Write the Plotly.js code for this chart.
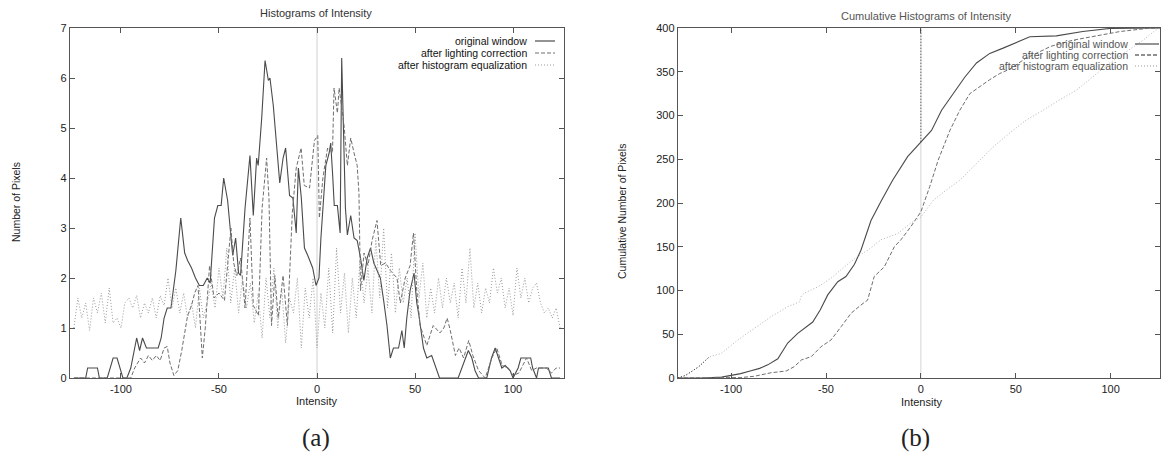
<!DOCTYPE html>
<html>
<head>
<meta charset="utf-8">
<script src="https://cdn.plot.ly/plotly-3.0.1.min.js"></script>
<style>
  html, body { margin: 0; padding: 0; background: #fff; }
  #chart { width: 1161px; height: 463px; }
</style>
</head>
<body>
<div id="chart"></div>
<script>
// ---------- (a) Histograms of Intensity ----------
const seriesNames = ['original window', 'after lighting correction', 'after histogram equalization'];
const xTickVals = [-100, -50, 0, 50, 100];
const xTickText = ['-100', '-50', '0', '50', '100'];

const origX = [-124,-118,-117,-112,-111,-107,-104,-102,-99,-97,-95,-92,-90.5,-89,-87,-81,-79.5,-78,-76.4,-74.5,-72,-69.5,-67.5,-66,-64,-62,-60,-58,-56,-54.5,-52.3,-50.6,-48.9,-47.6,-45.6,-43.9,-43,-41.5,-40,-39,-36.7,-34.2,-32.5,-30.8,-30,-28.2,-26.5,-24.8,-24,-22.3,-20.6,-19,-17.3,-16,-14,-12.3,-10.6,-9.5,-8,-6.4,-4.7,-2.2,-0.5,1,2,3.7,4.5,6.2,7,8,8.8,10.4,11.8,12.6,13.5,14.5,15.5,17.2,18.9,20.5,22.2,23.9,25.6,27.3,29,30.6,32.3,34,35.7,37.4,39,41.6,43.3,44.5,45.8,47.5,49.5,50.9,52,54.3,56,58.5,61,62.5,72,75.5,77.2,79,80.6,82.4,86.6,89,90.9,92.6,94.3,96,98.5,100,102.6,104,109,110,112,113,118,119.6,124];
const origY = [0,0,0.2,0.2,0,0,0.4,0.4,0,0,0.2,0.8,0.55,0.8,0.6,0.6,0.8,1.2,1.4,1.4,2.15,3.2,2.5,2.35,2.2,2.0,1.85,1.85,2.0,1.9,3.2,3.45,3.45,4.0,3.55,2.8,2.45,2.8,2.1,2.05,3.4,4.45,3.25,4.4,4.25,5.2,6.35,5.95,6.0,5.45,4.7,3.9,4.4,4.6,3.65,3.6,2.9,4.2,3.6,2.6,2.45,2.2,1.85,2.0,2.8,3.7,4.25,4.5,4.7,4.05,3.45,3.45,2.9,6.4,5.0,3.4,2.86,3.25,2.8,2.75,2.4,1.95,2.4,2.6,2.3,2.15,2.0,1.55,1.05,0.4,0.6,0.6,0.95,0.6,1.2,1.75,2.1,1.5,1.25,0.6,0.4,0.45,0.15,0,0,0.4,0.55,0.4,0.15,0,0,0.4,0.6,0.4,0.2,0.25,0.15,0,0.2,0.4,0.4,0.2,0,0.2,0.2,0,0];

const lightX = [-124,-96,-95,-93,-90,-88,-86,-84,-82,-80,-78,-76.4,-75,-73,-71,-69,-67.5,-66,-64,-62.4,-60.7,-58.5,-57,-54.8,-52.5,-50,-47.2,-45,-43.9,-42.5,-40.9,-39,-36.7,-34.2,-32.5,-29.9,-28,-25.7,-24.5,-23.2,-21.5,-19.8,-17.3,-15.1,-12.6,-10.6,-8.1,-6.5,-3.8,-1.3,0.4,1.2,3,5.4,7.9,8.7,10.4,11.3,13.8,15.5,17.2,18.9,20.5,21.4,22.2,24,26,28.1,30.6,32.5,35,37.4,40.8,42.5,45,47.5,49.2,50.9,52.6,56,59.3,62.7,64.7,66.4,68,70.6,72.5,74.8,77.4,79.5,82.4,85.8,89.2,91.7,94.5,97.6,100,103,105,106.9,109.5,112,117,119.6,122,124];
const lightY = [0,0,0,0.2,0.4,0.3,0.45,0.35,0.45,0.35,0.6,0.63,0.3,0.05,0.15,0.55,0.95,1.25,1.45,1.7,1.85,0.4,1.0,2.25,1.6,1.7,1.55,2.5,3.0,2.3,2.05,2.4,1.4,3.2,1.45,1.25,3.4,4.4,3.6,1.05,2.05,1.2,2.05,1.05,3.3,4.2,4.6,3.85,3.8,4.75,4.85,3.2,4.0,4.6,4.5,5.8,5.3,5.8,5.05,4.25,4.8,4.5,4.25,3.7,1.75,2.5,2.25,2.75,3.15,2.25,2.3,2.15,2.0,1.5,2.0,2.25,2.9,1.75,1.05,0.65,1.05,0.9,1.0,1.2,0.95,0.45,0.6,0.4,0.75,0.45,0.15,0,0.4,0.6,0.25,0.2,0.05,0.1,0.25,0.4,0.15,0.2,0.2,0.1,0.2,0.2];

const eqX = [];
for (let v = -124; v <= 124; v += 2) eqX.push(v);
const eqY = [
  1.0,1.6,1.2,1.5,0.95,1.6,1.3,1.7,1.1,1.8,
  1.1,1.2,1.0,1.5,1.6,1.4,1.65,1.2,1.5,1.3,
  1.6,1.2,1.65,1.45,2.0,1.4,1.8,1.3,1.7,1.2,
  1.5,1.0,1.8,1.2,1.5,1.9,1.4,2.2,1.6,2.6,
  1.5,2.2,1.3,2.0,1.4,1.9,1.1,1.7,0.8,2.0,
  1.2,2.2,1.0,1.8,0.7,1.6,1.3,2.0,0.6,1.8,
  1.2,2.0,0.6,1.7,1.0,2.2,0.9,2.6,1.3,2.1,
  0.9,2.0,1.2,2.4,1.5,2.2,1.3,2.8,1.6,3.0,
  1.4,2.5,1.3,2.2,1.5,2.0,1.2,2.9,1.6,2.3,
  1.2,1.8,1.3,2.0,1.4,2.0,1.5,1.9,1.2,2.2,
  1.5,2.6,1.4,1.9,1.3,1.8,1.5,2.2,1.7,2.0,
  1.4,1.8,1.25,2.2,1.6,2.0,1.5,1.8,1.9,1.5,
  1.3,1.4,1.2,1.4,1.0
];

// ---------- (b) Cumulative Histograms of Intensity ----------
const cumOrigX = [-128,-115,-105,-100,-95,-90,-85,-80.7,-75.4,-70.2,-64.9,-57,-53,-49.1,-43.8,-39.5,-35,-31.6,-26.3,-21,-14.9,-7,-2,0,5.6,10.9,17,23.2,29.3,36.3,43.3,50.4,57.4,71.4,85.3,99.5,126];
const cumOrigY = [0,0,1,3,5,8,11,15,22,40,51,64,78,95,110,116,130,146,180,202,226,253,265,270,283,306,325,344,360,371,377,384,390,391,396,399.5,400];

const cumLightX = [-128,-100,-95,-87.7,-79,-71,-66.7,-63,-57.8,-52.6,-47.4,-42,-36.8,-31.6,-28.1,-24.6,-19.3,-14,-10.5,-5.3,0,4.7,9.1,15.3,20.5,25.8,31,36.3,41.6,46.8,55,68.4,80,90,105,119.5,126];
const cumLightY = [0,0,0.5,2,6,8,13,20.6,24.4,35.8,43.4,58.7,74,83.4,89,116,127,150,158,173,190,219,249,283,306,325,333,341,348,353,365,379,386,390,396,399.6,400];

const cumEqX = [-128,-124,-117,-111.4,-105.3,-96.5,-87.7,-79,-70.2,-64,-63,-61.4,-54.4,-47.4,-40.4,-33.3,-28,-21,-12.3,-5.3,0,6.5,13.5,20.5,29.3,38,46.8,55.6,64.4,73.2,82,90.7,99.5,108.3,117,124,126];
const cumEqY = [0,3,13,24.4,28,43.4,56.8,70,81.5,87,94,97,104,114,127,139,146,158,165,177,184,203,215,226,245,264,280,295,306,318,329,344,360,373,386,398,400];

// ---------- styling ----------
const cSolid = '#4a4a4a', cDash = '#6e6e6e', cDot = '#9a9a9a';
const dashPat = '4px,2px', dotPat = '1px,2px';
const FONT = 'Liberation Sans, Arial, sans-serif';

const traces = [
  {x: origX, y: origY, name: seriesNames[0], mode: 'lines', line: {color: cSolid, width: 1.1}, xaxis: 'x', yaxis: 'y', showlegend: false},
  {x: lightX, y: lightY, name: seriesNames[1], mode: 'lines', line: {color: cDash, width: 1, dash: dashPat}, xaxis: 'x', yaxis: 'y', showlegend: false},
  {x: eqX, y: eqY, name: seriesNames[2], mode: 'lines', line: {color: cDot, width: 1, dash: dotPat}, xaxis: 'x', yaxis: 'y', showlegend: false},
  {x: cumOrigX, y: cumOrigY, name: seriesNames[0], mode: 'lines', line: {color: cSolid, width: 1.1}, xaxis: 'x2', yaxis: 'y2', showlegend: false},
  {x: cumLightX, y: cumLightY, name: seriesNames[1], mode: 'lines', line: {color: cDash, width: 1, dash: dashPat}, xaxis: 'x2', yaxis: 'y2', showlegend: false},
  {x: cumEqX, y: cumEqY, name: seriesNames[2], mode: 'lines', line: {color: '#b4b4b4', width: 1, dash: dotPat}, xaxis: 'x2', yaxis: 'y2', showlegend: false},
  {x: cumEqX.slice(0, 4), y: cumEqY.slice(0, 4), name: seriesNames[2], mode: 'lines', line: {color: '#222', width: 1, dash: dotPat}, xaxis: 'x2', yaxis: 'y2', showlegend: false, hoverinfo: 'skip'}
];

const W = 1161, H = 463;
const px = v => v / W, py = v => 1 - v / H;
const yDom = [py(378), py(28)];

const axisCommon = {
  showline: true, linecolor: '#555', linewidth: 1.3, mirror: 'ticks',
  ticks: 'inside', ticklen: 5, tickcolor: '#555', tickwidth: 1,
  showgrid: false, zeroline: false,
  tickfont: {family: FONT, size: 11, color: '#222'}
};

const annotations = [];
const shapes = [];
function txt(t, x, y, opts) {
  annotations.push(Object.assign({text: t, x: px(x), y: py(y), xref: 'paper', yref: 'paper', showarrow: false,
    font: {family: FONT, size: 11, color: '#222'}, xanchor: 'center', yanchor: 'middle'}, opts || {}));
}
txt('Histograms of Intensity', 316, 13, {font: {family: FONT, size: 11, color: '#333'}});
txt('Cumulative Histograms of Intensity', 926, 16, {font: {family: FONT, size: 11, color: '#555'}});
txt('Intensity', 316, 401);
txt('Intensity', 921, 402);
txt('Number of Pixels', 16, 202, {textangle: -90, font: {family: FONT, size: 10.5, color: '#222'}});
txt('Cumulative Number of Pixels', 622, 212, {textangle: -90, font: {family: FONT, size: 10.5, color: '#222'}});
txt('(a)', 316, 438, {font: {family: 'Liberation Serif, Times New Roman, serif', size: 25, color: '#222'}});
txt('(b)', 916, 438, {font: {family: 'Liberation Serif, Times New Roman, serif', size: 25, color: '#222'}});

// legends (gnuplot style: text right-aligned, sample on the right)
const legA = {right: 529, x0: 535, x1: 555, ys: [41, 53, 65]};
const legB = {right: 1130, x0: 1135, x1: 1159, ys: [44, 55, 66]};
const styles = [{color: cSolid, dash: 'solid'}, {color: cDash, dash: dashPat}, {color: cDot, dash: dotPat}];
[legA, legB].forEach((L, k) => {
  seriesNames.forEach((n, i) => {
    txt(n, L.right, L.ys[i], {xanchor: 'right', font: {family: FONT, size: 10.5, color: k === 0 ? '#111' : '#555'}});
    shapes.push({type: 'line', xref: 'paper', yref: 'paper', x0: px(L.x0), x1: px(L.x1), y0: py(L.ys[i]), y1: py(L.ys[i]),
      line: {color: k === 1 && i === 1 ? '#222' : styles[i].color, width: 1.2, dash: styles[i].dash}});
  });
});

// zero axis lines
shapes.push({type: 'line', xref: 'x', yref: 'y', x0: 0, x1: 0, y0: 0, y1: 7, line: {color: '#d0d0d0', width: 1}, layer: 'below'});
shapes.push({type: 'line', xref: 'x2', yref: 'y2', x0: 0, x1: 0, y0: 0, y1: 400, line: {color: '#d4d4d4', width: 1}, layer: 'below'});
shapes.push({type: 'line', xref: 'x2', yref: 'y2', x0: 0, x1: 0, y0: cumOrigY[cumOrigX.indexOf(0)], y1: 400, line: {color: '#333', width: 1, dash: dotPat}});

const layout = {
  width: W, height: H,
  margin: {l: 0, r: 0, t: 0, b: 0},
  paper_bgcolor: '#fff', plot_bgcolor: '#fff',
  showlegend: false,
  xaxis: Object.assign({}, axisCommon, {domain: [px(70), px(564)], range: [-126, 126], tickmode: 'array', tickvals: xTickVals, ticktext: xTickText, anchor: 'y'}),
  yaxis: Object.assign({}, axisCommon, {domain: yDom, range: [0, 7], dtick: 1, anchor: 'x'}),
  xaxis2: Object.assign({}, axisCommon, {domain: [px(678), px(1160)], range: [-128, 126], tickmode: 'array', tickvals: xTickVals, ticktext: xTickText, anchor: 'y2'}),
  yaxis2: Object.assign({}, axisCommon, {domain: yDom, range: [0, 400], dtick: 50, anchor: 'x2'}),
  annotations: annotations,
  shapes: shapes
};

Plotly.newPlot('chart', traces, layout, {displayModeBar: false, staticPlot: true});
</script>
</body>
</html>
